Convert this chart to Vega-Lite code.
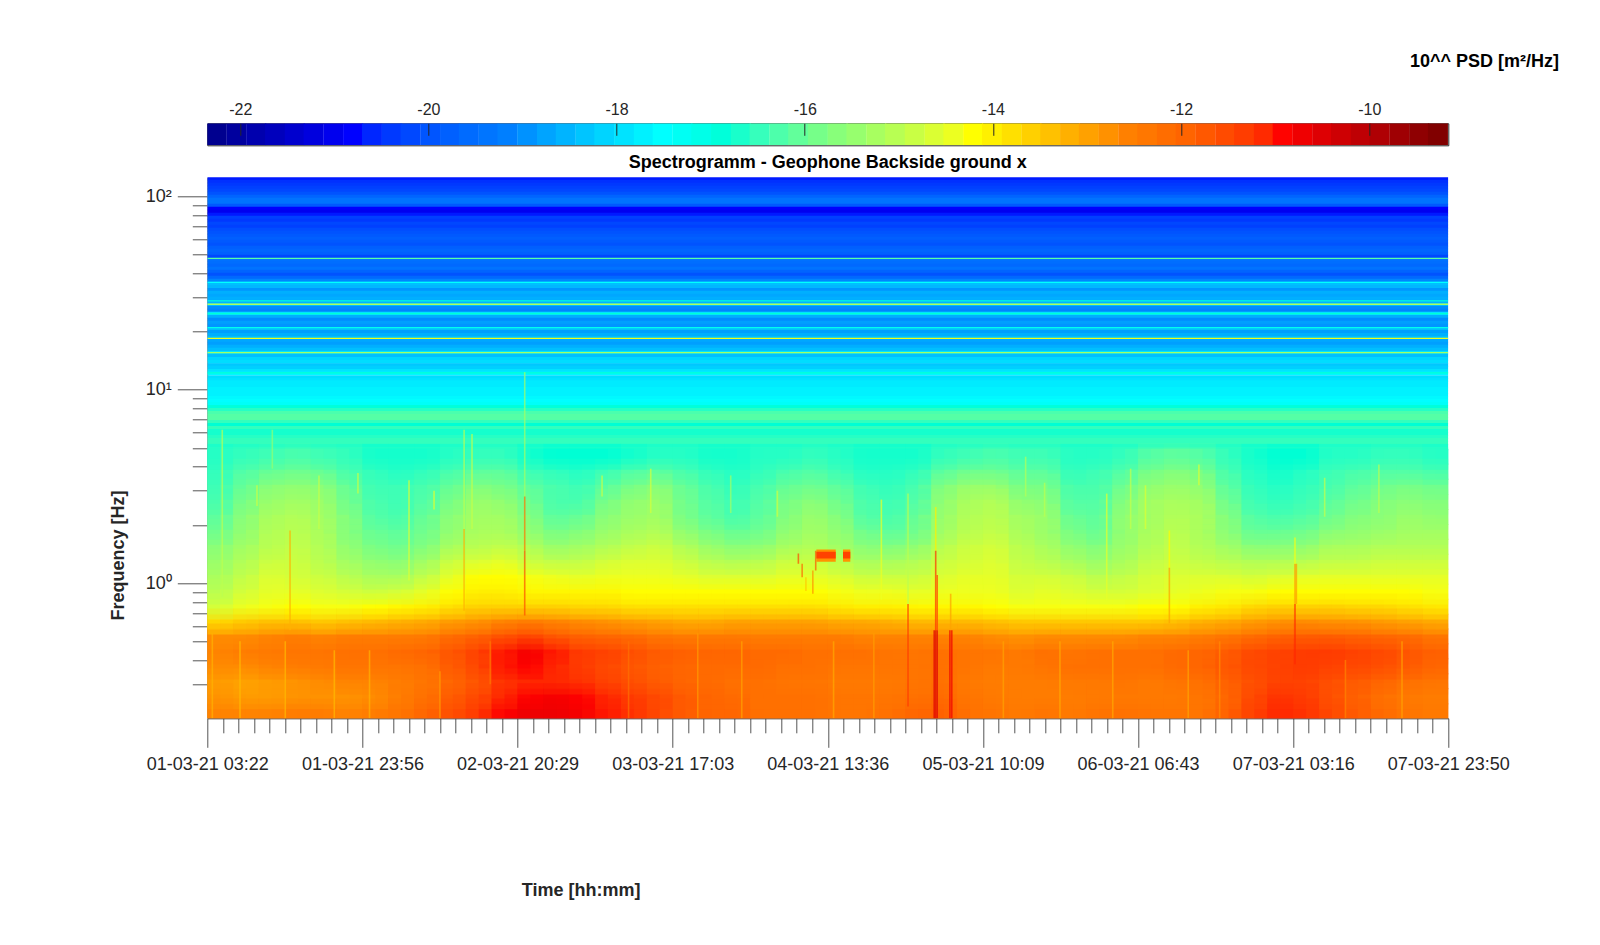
{"$schema":"https://vega.github.io/schema/vega-lite/v6.json","autosize":"none","padding":{"left":207.3,"top":123.3,"right":1392.7,"bottom":821.7},"background":"white","config":{"font":"Liberation Sans","view":{"stroke":null}},"spacing":32,"bounds":"flush","resolve":{"scale":{"color":"independent"}},
"datasets":{
"bar":[{"v":-22.25},{"v":-22.04},{"v":-21.83},{"v":-21.63},{"v":-21.42},{"v":-21.22},{"v":-21.01},{"v":-20.8},{"v":-20.6},{"v":-20.39},{"v":-20.19},{"v":-19.98},{"v":-19.77},{"v":-19.57},{"v":-19.36},{"v":-19.16},{"v":-18.95},{"v":-18.74},{"v":-18.54},{"v":-18.33},{"v":-18.13},{"v":-17.92},{"v":-17.71},{"v":-17.51},{"v":-17.3},{"v":-17.1},{"v":-16.89},{"v":-16.68},{"v":-16.48},{"v":-16.27},{"v":-16.07},{"v":-15.86},{"v":-15.65},{"v":-15.45},{"v":-15.24},{"v":-15.04},{"v":-14.83},{"v":-14.62},{"v":-14.42},{"v":-14.21},{"v":-14.01},{"v":-13.8},{"v":-13.59},{"v":-13.39},{"v":-13.18},{"v":-12.98},{"v":-12.77},{"v":-12.56},{"v":-12.36},{"v":-12.15},{"v":-11.95},{"v":-11.74},{"v":-11.53},{"v":-11.33},{"v":-11.12},{"v":-10.92},{"v":-10.71},{"v":-10.5},{"v":-10.3},{"v":-10.09},{"v":-9.89},{"v":-9.68},{"v":-9.47},{"v":-9.27}],
"stripes":[{"f":123.2,"v":-20.7},{"f":118.9,"v":-20.5},{"f":114.7,"v":-20.4},{"f":110.7,"v":-20.3},{"f":106.8,"v":-20.2},{"f":103,"v":-20},{"f":99.4,"v":-19.7},{"f":95.9,"v":-19.4},{"f":92.5,"v":-19.4},{"f":89.3,"v":-19.9},{"f":86.2,"v":-20.8},{"f":83.1,"v":-21},{"f":80.2,"v":-20.7},{"f":77.4,"v":-20.3},{"f":74.7,"v":-20.4},{"f":72.1,"v":-20.2},{"f":69.5,"v":-20.3},{"f":67.1,"v":-20.1},{"f":64.7,"v":-20},{"f":62.5,"v":-19.9},{"f":60.3,"v":-19.8},{"f":58.2,"v":-19.9},{"f":56.1,"v":-20},{"f":54.2,"v":-19.8},{"f":52.3,"v":-19.7},{"f":50.4,"v":-19.8},{"f":48.7,"v":-20.2},{"f":46.9,"v":-19.4},{"f":45.3,"v":-19.5},{"f":43.7,"v":-19.6},{"f":42.2,"v":-19.4},{"f":40.7,"v":-19.7},{"f":39.3,"v":-20},{"f":37.9,"v":-19.6},{"f":36.6,"v":-19.1},{"f":35.3,"v":-18.4},{"f":34,"v":-18.5},{"f":32.8,"v":-18.9},{"f":31.7,"v":-18.6},{"f":30.6,"v":-18.7},{"f":29.5,"v":-18.6},{"f":28.5,"v":-18.7},{"f":27.5,"v":-18.2},{"f":26.5,"v":-19},{"f":25.6,"v":-19.1},{"f":24.7,"v":-17.9},{"f":23.8,"v":-18.6},{"f":23,"v":-19},{"f":22.2,"v":-18.8},{"f":21.4,"v":-18.9},{"f":20.6,"v":-18.4},{"f":19.9,"v":-18.8},{"f":19.2,"v":-18.6},{"f":18.5,"v":-18.4},{"f":17.9,"v":-18.7},{"f":17.3,"v":-18.8},{"f":16.7,"v":-18.6},{"f":16.1,"v":-18.4},{"f":15.5,"v":-17.9},{"f":15,"v":-18.4},{"f":14.4,"v":-18.1},{"f":13.9,"v":-18},{"f":13.4,"v":-18.3},{"f":13,"v":-18.2},{"f":12.5,"v":-17.9},{"f":12.1,"v":-17.6},{"f":11.6,"v":-18},{"f":11.2,"v":-17.9},{"f":10.9,"v":-17.8},{"f":10.5,"v":-17.8},{"f":10.1,"v":-17.7},{"f":9.74,"v":-17.7},{"f":9.4,"v":-17.7},{"f":9.07,"v":-17.6},{"f":8.76,"v":-17.5},{"f":8.45,"v":-17.4},{"f":8.15,"v":-16.9},{"f":7.87,"v":-16.6},{"f":7.59,"v":-16.3},{"f":7.32,"v":-16.2},{"f":7.07,"v":-16.2},{"f":6.82,"v":-16.5},{"f":6.58,"v":-16.8},{"f":6.35,"v":-16.5},{"f":6.13,"v":-16.7},{"f":5.91,"v":-16.7},{"f":5.7,"v":-16.6},{"f":5.5,"v":-16.5},{"f":5.31,"v":-16.5},{"f":5.12,"v":-16.7},{"f":4.94,"v":-16.6}],
"lines":[{"f":47.6,"v":-16.2},{"f":27.6,"v":-15.2},{"f":28.7,"v":-17},{"f":24.7,"v":-16.8},{"f":18.4,"v":-14.4},{"f":20.9,"v":-17.2},{"f":15.5,"v":-15.3},{"f":12.2,"v":-16.8},{"f":35.8,"v":-17.5}],
"grid":[
{"t":103,"f":0.217,"v":-12.6},{"t":103,"f":0.26,"v":-12.8},{"t":103,"f":0.31,"v":-12.9},{"t":103,"f":0.371,"v":-12.7},{"t":103,"f":0.443,"v":-12.6},{"t":103,"f":0.53,"v":-12.7},{"t":103,"f":0.632,"v":-13.7},{"t":103,"f":0.756,"v":-14.7},{"t":103,"f":0.904,"v":-15},{"t":103,"f":1.08,"v":-15.2},{"t":103,"f":1.29,"v":-15.4},{"t":103,"f":1.54,"v":-15.6},{"t":103,"f":1.84,"v":-15.9},{"t":103,"f":2.2,"v":-16.1},{"t":103,"f":2.63,"v":-16.3},{"t":103,"f":3.15,"v":-16.4},{"t":103,"f":3.76,"v":-16.5},{"t":103,"f":4.5,"v":-16.6},
{"t":308,"f":0.217,"v":-12.6},{"t":308,"f":0.26,"v":-12.9},{"t":308,"f":0.31,"v":-13},{"t":308,"f":0.371,"v":-12.7},{"t":308,"f":0.443,"v":-12.5},{"t":308,"f":0.53,"v":-12.7},{"t":308,"f":0.632,"v":-13.5},{"t":308,"f":0.756,"v":-14.4},{"t":308,"f":0.904,"v":-14.7},{"t":308,"f":1.08,"v":-14.9},{"t":308,"f":1.29,"v":-15.1},{"t":308,"f":1.54,"v":-15.3},{"t":308,"f":1.84,"v":-15.5},{"t":308,"f":2.2,"v":-15.6},{"t":308,"f":2.63,"v":-15.8},{"t":308,"f":3.15,"v":-16},{"t":308,"f":3.76,"v":-16.2},{"t":308,"f":4.5,"v":-16.5},
{"t":514,"f":0.217,"v":-12.6},{"t":514,"f":0.26,"v":-12.9},{"t":514,"f":0.31,"v":-12.9},{"t":514,"f":0.371,"v":-12.6},{"t":514,"f":0.443,"v":-12.4},{"t":514,"f":0.53,"v":-12.6},{"t":514,"f":0.632,"v":-13.4},{"t":514,"f":0.756,"v":-14.3},{"t":514,"f":0.904,"v":-14.5},{"t":514,"f":1.08,"v":-14.6},{"t":514,"f":1.29,"v":-14.8},{"t":514,"f":1.54,"v":-15},{"t":514,"f":1.84,"v":-15.1},{"t":514,"f":2.2,"v":-15.2},{"t":514,"f":2.63,"v":-15.4},{"t":514,"f":3.15,"v":-15.6},{"t":514,"f":3.76,"v":-16},{"t":514,"f":4.5,"v":-16.4},
{"t":720,"f":0.217,"v":-12.5},{"t":720,"f":0.26,"v":-12.8},{"t":720,"f":0.31,"v":-12.8},{"t":720,"f":0.371,"v":-12.5},{"t":720,"f":0.443,"v":-12.3},{"t":720,"f":0.53,"v":-12.5},{"t":720,"f":0.632,"v":-13.4},{"t":720,"f":0.756,"v":-14.2},{"t":720,"f":0.904,"v":-14.5},{"t":720,"f":1.08,"v":-14.7},{"t":720,"f":1.29,"v":-14.8},{"t":720,"f":1.54,"v":-14.9},{"t":720,"f":1.84,"v":-15},{"t":720,"f":2.2,"v":-15.1},{"t":720,"f":2.63,"v":-15.3},{"t":720,"f":3.15,"v":-15.5},{"t":720,"f":3.76,"v":-15.9},{"t":720,"f":4.5,"v":-16.3},
{"t":925,"f":0.217,"v":-12.5},{"t":925,"f":0.26,"v":-12.8},{"t":925,"f":0.31,"v":-12.7},{"t":925,"f":0.371,"v":-12.4},{"t":925,"f":0.443,"v":-12.3},{"t":925,"f":0.53,"v":-12.6},{"t":925,"f":0.632,"v":-13.5},{"t":925,"f":0.756,"v":-14.3},{"t":925,"f":0.904,"v":-14.6},{"t":925,"f":1.08,"v":-14.8},{"t":925,"f":1.29,"v":-15},{"t":925,"f":1.54,"v":-15.1},{"t":925,"f":1.84,"v":-15.2},{"t":925,"f":2.2,"v":-15.3},{"t":925,"f":2.63,"v":-15.4},{"t":925,"f":3.15,"v":-15.6},{"t":925,"f":3.76,"v":-16},{"t":925,"f":4.5,"v":-16.4},
{"t":1131,"f":0.217,"v":-12.6},{"t":1131,"f":0.26,"v":-12.8},{"t":1131,"f":0.31,"v":-12.6},{"t":1131,"f":0.371,"v":-12.3},{"t":1131,"f":0.443,"v":-12.2},{"t":1131,"f":0.53,"v":-12.5},{"t":1131,"f":0.632,"v":-13.4},{"t":1131,"f":0.756,"v":-14.3},{"t":1131,"f":0.904,"v":-14.7},{"t":1131,"f":1.08,"v":-15},{"t":1131,"f":1.29,"v":-15.3},{"t":1131,"f":1.54,"v":-15.5},{"t":1131,"f":1.84,"v":-15.7},{"t":1131,"f":2.2,"v":-15.7},{"t":1131,"f":2.63,"v":-15.9},{"t":1131,"f":3.15,"v":-16},{"t":1131,"f":3.76,"v":-16.3},{"t":1131,"f":4.5,"v":-16.5},
{"t":1336,"f":0.217,"v":-12.5},{"t":1336,"f":0.26,"v":-12.7},{"t":1336,"f":0.31,"v":-12.6},{"t":1336,"f":0.371,"v":-12.3},{"t":1336,"f":0.443,"v":-12.2},{"t":1336,"f":0.53,"v":-12.5},{"t":1336,"f":0.632,"v":-13.3},{"t":1336,"f":0.756,"v":-14.2},{"t":1336,"f":0.904,"v":-14.8},{"t":1336,"f":1.08,"v":-15.2},{"t":1336,"f":1.29,"v":-15.5},{"t":1336,"f":1.54,"v":-15.8},{"t":1336,"f":1.84,"v":-16},{"t":1336,"f":2.2,"v":-16.2},{"t":1336,"f":2.63,"v":-16.3},{"t":1336,"f":3.15,"v":-16.4},{"t":1336,"f":3.76,"v":-16.5},{"t":1336,"f":4.5,"v":-16.7},
{"t":1542,"f":0.217,"v":-12.3},{"t":1542,"f":0.26,"v":-12.5},{"t":1542,"f":0.31,"v":-12.5},{"t":1542,"f":0.371,"v":-12.3},{"t":1542,"f":0.443,"v":-12.1},{"t":1542,"f":0.53,"v":-12.5},{"t":1542,"f":0.632,"v":-13.2},{"t":1542,"f":0.756,"v":-14.1},{"t":1542,"f":0.904,"v":-14.7},{"t":1542,"f":1.08,"v":-15.2},{"t":1542,"f":1.29,"v":-15.6},{"t":1542,"f":1.54,"v":-15.9},{"t":1542,"f":1.84,"v":-16.1},{"t":1542,"f":2.2,"v":-16.3},{"t":1542,"f":2.63,"v":-16.4},{"t":1542,"f":3.15,"v":-16.4},{"t":1542,"f":3.76,"v":-16.6},{"t":1542,"f":4.5,"v":-16.7},
{"t":1748,"f":0.217,"v":-12},{"t":1748,"f":0.26,"v":-12.2},{"t":1748,"f":0.31,"v":-12.3},{"t":1748,"f":0.371,"v":-12.2},{"t":1748,"f":0.443,"v":-12},{"t":1748,"f":0.53,"v":-12.4},{"t":1748,"f":0.632,"v":-13.1},{"t":1748,"f":0.756,"v":-14},{"t":1748,"f":0.904,"v":-14.5},{"t":1748,"f":1.08,"v":-14.9},{"t":1748,"f":1.29,"v":-15.3},{"t":1748,"f":1.54,"v":-15.7},{"t":1748,"f":1.84,"v":-15.9},{"t":1748,"f":2.2,"v":-16},{"t":1748,"f":2.63,"v":-16.2},{"t":1748,"f":3.15,"v":-16.3},{"t":1748,"f":3.76,"v":-16.5},{"t":1748,"f":4.5,"v":-16.7},
{"t":1953,"f":0.217,"v":-11.6},{"t":1953,"f":0.26,"v":-11.8},{"t":1953,"f":0.31,"v":-12},{"t":1953,"f":0.371,"v":-11.8},{"t":1953,"f":0.443,"v":-11.7},{"t":1953,"f":0.53,"v":-12.1},{"t":1953,"f":0.632,"v":-12.9},{"t":1953,"f":0.756,"v":-13.8},{"t":1953,"f":0.904,"v":-14.2},{"t":1953,"f":1.08,"v":-14.5},{"t":1953,"f":1.29,"v":-14.8},{"t":1953,"f":1.54,"v":-15.2},{"t":1953,"f":1.84,"v":-15.5},{"t":1953,"f":2.2,"v":-15.6},{"t":1953,"f":2.63,"v":-15.8},{"t":1953,"f":3.15,"v":-16},{"t":1953,"f":3.76,"v":-16.3},{"t":1953,"f":4.5,"v":-16.6},
{"t":2159,"f":0.217,"v":-11.3},{"t":2159,"f":0.26,"v":-11.5},{"t":2159,"f":0.31,"v":-11.7},{"t":2159,"f":0.371,"v":-11.5},{"t":2159,"f":0.443,"v":-11.4},{"t":2159,"f":0.53,"v":-11.9},{"t":2159,"f":0.632,"v":-12.8},{"t":2159,"f":0.756,"v":-13.6},{"t":2159,"f":0.904,"v":-14},{"t":2159,"f":1.08,"v":-14.2},{"t":2159,"f":1.29,"v":-14.6},{"t":2159,"f":1.54,"v":-15},{"t":2159,"f":1.84,"v":-15.2},{"t":2159,"f":2.2,"v":-15.3},{"t":2159,"f":2.63,"v":-15.4},{"t":2159,"f":3.15,"v":-15.7},{"t":2159,"f":3.76,"v":-16.1},{"t":2159,"f":4.5,"v":-16.5},
{"t":2364,"f":0.217,"v":-10.9},{"t":2364,"f":0.26,"v":-11.1},{"t":2364,"f":0.31,"v":-11.2},{"t":2364,"f":0.371,"v":-11},{"t":2364,"f":0.443,"v":-11},{"t":2364,"f":0.53,"v":-11.6},{"t":2364,"f":0.632,"v":-12.6},{"t":2364,"f":0.756,"v":-13.6},{"t":2364,"f":0.904,"v":-14},{"t":2364,"f":1.08,"v":-14.2},{"t":2364,"f":1.29,"v":-14.5},{"t":2364,"f":1.54,"v":-14.9},{"t":2364,"f":1.84,"v":-15.2},{"t":2364,"f":2.2,"v":-15.3},{"t":2364,"f":2.63,"v":-15.5},{"t":2364,"f":3.15,"v":-15.8},{"t":2364,"f":3.76,"v":-16.1},{"t":2364,"f":4.5,"v":-16.5},
{"t":2570,"f":0.217,"v":-10.7},{"t":2570,"f":0.26,"v":-10.9},{"t":2570,"f":0.31,"v":-11.1},{"t":2570,"f":0.371,"v":-10.9},{"t":2570,"f":0.443,"v":-10.8},{"t":2570,"f":0.53,"v":-11.4},{"t":2570,"f":0.632,"v":-12.5},{"t":2570,"f":0.756,"v":-13.6},{"t":2570,"f":0.904,"v":-14.1},{"t":2570,"f":1.08,"v":-14.3},{"t":2570,"f":1.29,"v":-14.8},{"t":2570,"f":1.54,"v":-15.1},{"t":2570,"f":1.84,"v":-15.5},{"t":2570,"f":2.2,"v":-15.7},{"t":2570,"f":2.63,"v":-15.9},{"t":2570,"f":3.15,"v":-16.1},{"t":2570,"f":3.76,"v":-16.4},{"t":2570,"f":4.5,"v":-16.7},
{"t":2776,"f":0.217,"v":-10.7},{"t":2776,"f":0.26,"v":-10.8},{"t":2776,"f":0.31,"v":-11.1},{"t":2776,"f":0.371,"v":-11.1},{"t":2776,"f":0.443,"v":-11},{"t":2776,"f":0.53,"v":-11.7},{"t":2776,"f":0.632,"v":-12.6},{"t":2776,"f":0.756,"v":-13.6},{"t":2776,"f":0.904,"v":-14.1},{"t":2776,"f":1.08,"v":-14.4},{"t":2776,"f":1.29,"v":-14.9},{"t":2776,"f":1.54,"v":-15.4},{"t":2776,"f":1.84,"v":-15.8},{"t":2776,"f":2.2,"v":-16.1},{"t":2776,"f":2.63,"v":-16.3},{"t":2776,"f":3.15,"v":-16.3},{"t":2776,"f":3.76,"v":-16.5},{"t":2776,"f":4.5,"v":-16.8},
{"t":2981,"f":0.217,"v":-10.8},{"t":2981,"f":0.26,"v":-10.9},{"t":2981,"f":0.31,"v":-11.2},{"t":2981,"f":0.371,"v":-11.3},{"t":2981,"f":0.443,"v":-11.3},{"t":2981,"f":0.53,"v":-11.9},{"t":2981,"f":0.632,"v":-12.7},{"t":2981,"f":0.756,"v":-13.7},{"t":2981,"f":0.904,"v":-14.1},{"t":2981,"f":1.08,"v":-14.5},{"t":2981,"f":1.29,"v":-14.9},{"t":2981,"f":1.54,"v":-15.3},{"t":2981,"f":1.84,"v":-15.7},{"t":2981,"f":2.2,"v":-16},{"t":2981,"f":2.63,"v":-16.3},{"t":2981,"f":3.15,"v":-16.4},{"t":2981,"f":3.76,"v":-16.6},{"t":2981,"f":4.5,"v":-16.8},
{"t":3187,"f":0.217,"v":-11},{"t":3187,"f":0.26,"v":-11.1},{"t":3187,"f":0.31,"v":-11.4},{"t":3187,"f":0.371,"v":-11.5},{"t":3187,"f":0.443,"v":-11.4},{"t":3187,"f":0.53,"v":-12},{"t":3187,"f":0.632,"v":-12.8},{"t":3187,"f":0.756,"v":-13.7},{"t":3187,"f":0.904,"v":-14.1},{"t":3187,"f":1.08,"v":-14.4},{"t":3187,"f":1.29,"v":-14.7},{"t":3187,"f":1.54,"v":-15.1},{"t":3187,"f":1.84,"v":-15.4},{"t":3187,"f":2.2,"v":-15.6},{"t":3187,"f":2.63,"v":-15.8},{"t":3187,"f":3.15,"v":-16.1},{"t":3187,"f":3.76,"v":-16.4},{"t":3187,"f":4.5,"v":-16.8},
{"t":3392,"f":0.217,"v":-11.2},{"t":3392,"f":0.26,"v":-11.3},{"t":3392,"f":0.31,"v":-11.6},{"t":3392,"f":0.371,"v":-11.7},{"t":3392,"f":0.443,"v":-11.6},{"t":3392,"f":0.53,"v":-12.1},{"t":3392,"f":0.632,"v":-12.9},{"t":3392,"f":0.756,"v":-13.8},{"t":3392,"f":0.904,"v":-14.2},{"t":3392,"f":1.08,"v":-14.4},{"t":3392,"f":1.29,"v":-14.6},{"t":3392,"f":1.54,"v":-14.9},{"t":3392,"f":1.84,"v":-15.2},{"t":3392,"f":2.2,"v":-15.4},{"t":3392,"f":2.63,"v":-15.5},{"t":3392,"f":3.15,"v":-15.8},{"t":3392,"f":3.76,"v":-16.2},{"t":3392,"f":4.5,"v":-16.7},
{"t":3598,"f":0.217,"v":-11.5},{"t":3598,"f":0.26,"v":-11.5},{"t":3598,"f":0.31,"v":-11.8},{"t":3598,"f":0.371,"v":-11.9},{"t":3598,"f":0.443,"v":-11.8},{"t":3598,"f":0.53,"v":-12.3},{"t":3598,"f":0.632,"v":-13},{"t":3598,"f":0.756,"v":-13.8},{"t":3598,"f":0.904,"v":-14.2},{"t":3598,"f":1.08,"v":-14.4},{"t":3598,"f":1.29,"v":-14.6},{"t":3598,"f":1.54,"v":-14.8},{"t":3598,"f":1.84,"v":-15.1},{"t":3598,"f":2.2,"v":-15.3},{"t":3598,"f":2.63,"v":-15.4},{"t":3598,"f":3.15,"v":-15.6},{"t":3598,"f":3.76,"v":-16.1},{"t":3598,"f":4.5,"v":-16.6},
{"t":3804,"f":0.217,"v":-11.8},{"t":3804,"f":0.26,"v":-11.8},{"t":3804,"f":0.31,"v":-12},{"t":3804,"f":0.371,"v":-12},{"t":3804,"f":0.443,"v":-11.9},{"t":3804,"f":0.53,"v":-12.4},{"t":3804,"f":0.632,"v":-13.1},{"t":3804,"f":0.756,"v":-13.8},{"t":3804,"f":0.904,"v":-14.2},{"t":3804,"f":1.08,"v":-14.5},{"t":3804,"f":1.29,"v":-14.8},{"t":3804,"f":1.54,"v":-15.1},{"t":3804,"f":1.84,"v":-15.5},{"t":3804,"f":2.2,"v":-15.8},{"t":3804,"f":2.63,"v":-15.9},{"t":3804,"f":3.15,"v":-16},{"t":3804,"f":3.76,"v":-16.3},{"t":3804,"f":4.5,"v":-16.6},
{"t":4009,"f":0.217,"v":-12},{"t":4009,"f":0.26,"v":-12},{"t":4009,"f":0.31,"v":-12.1},{"t":4009,"f":0.371,"v":-12.1},{"t":4009,"f":0.443,"v":-12},{"t":4009,"f":0.53,"v":-12.4},{"t":4009,"f":0.632,"v":-13.1},{"t":4009,"f":0.756,"v":-13.8},{"t":4009,"f":0.904,"v":-14.2},{"t":4009,"f":1.08,"v":-14.6},{"t":4009,"f":1.29,"v":-15},{"t":4009,"f":1.54,"v":-15.4},{"t":4009,"f":1.84,"v":-15.8},{"t":4009,"f":2.2,"v":-16.1},{"t":4009,"f":2.63,"v":-16.2},{"t":4009,"f":3.15,"v":-16.3},{"t":4009,"f":3.76,"v":-16.5},{"t":4009,"f":4.5,"v":-16.7},
{"t":4215,"f":0.217,"v":-12},{"t":4215,"f":0.26,"v":-12.1},{"t":4215,"f":0.31,"v":-12.2},{"t":4215,"f":0.371,"v":-12.1},{"t":4215,"f":0.443,"v":-12},{"t":4215,"f":0.53,"v":-12.4},{"t":4215,"f":0.632,"v":-13},{"t":4215,"f":0.756,"v":-13.8},{"t":4215,"f":0.904,"v":-14.2},{"t":4215,"f":1.08,"v":-14.6},{"t":4215,"f":1.29,"v":-15.1},{"t":4215,"f":1.54,"v":-15.6},{"t":4215,"f":1.84,"v":-16},{"t":4215,"f":2.2,"v":-16.3},{"t":4215,"f":2.63,"v":-16.4},{"t":4215,"f":3.15,"v":-16.5},{"t":4215,"f":3.76,"v":-16.6},{"t":4215,"f":4.5,"v":-16.7},
{"t":4420,"f":0.217,"v":-12.2},{"t":4420,"f":0.26,"v":-12.2},{"t":4420,"f":0.31,"v":-12.2},{"t":4420,"f":0.371,"v":-12.1},{"t":4420,"f":0.443,"v":-12.1},{"t":4420,"f":0.53,"v":-12.5},{"t":4420,"f":0.632,"v":-13},{"t":4420,"f":0.756,"v":-13.8},{"t":4420,"f":0.904,"v":-14.2},{"t":4420,"f":1.08,"v":-14.6},{"t":4420,"f":1.29,"v":-15},{"t":4420,"f":1.54,"v":-15.5},{"t":4420,"f":1.84,"v":-15.9},{"t":4420,"f":2.2,"v":-16.1},{"t":4420,"f":2.63,"v":-16.2},{"t":4420,"f":3.15,"v":-16.3},{"t":4420,"f":3.76,"v":-16.5},{"t":4420,"f":4.5,"v":-16.6},
{"t":4626,"f":0.217,"v":-12.2},{"t":4626,"f":0.26,"v":-12.2},{"t":4626,"f":0.31,"v":-12.3},{"t":4626,"f":0.371,"v":-12.2},{"t":4626,"f":0.443,"v":-12.1},{"t":4626,"f":0.53,"v":-12.5},{"t":4626,"f":0.632,"v":-13},{"t":4626,"f":0.756,"v":-13.8},{"t":4626,"f":0.904,"v":-14.2},{"t":4626,"f":1.08,"v":-14.5},{"t":4626,"f":1.29,"v":-14.8},{"t":4626,"f":1.54,"v":-15.2},{"t":4626,"f":1.84,"v":-15.5},{"t":4626,"f":2.2,"v":-15.7},{"t":4626,"f":2.63,"v":-15.8},{"t":4626,"f":3.15,"v":-16},{"t":4626,"f":3.76,"v":-16.3},{"t":4626,"f":4.5,"v":-16.6},
{"t":4832,"f":0.217,"v":-12.2},{"t":4832,"f":0.26,"v":-12.2},{"t":4832,"f":0.31,"v":-12.3},{"t":4832,"f":0.371,"v":-12.2},{"t":4832,"f":0.443,"v":-12.2},{"t":4832,"f":0.53,"v":-12.5},{"t":4832,"f":0.632,"v":-13},{"t":4832,"f":0.756,"v":-13.8},{"t":4832,"f":0.904,"v":-14.2},{"t":4832,"f":1.08,"v":-14.5},{"t":4832,"f":1.29,"v":-14.8},{"t":4832,"f":1.54,"v":-15.1},{"t":4832,"f":1.84,"v":-15.3},{"t":4832,"f":2.2,"v":-15.4},{"t":4832,"f":2.63,"v":-15.6},{"t":4832,"f":3.15,"v":-15.9},{"t":4832,"f":3.76,"v":-16.2},{"t":4832,"f":4.5,"v":-16.5},
{"t":5037,"f":0.217,"v":-12.3},{"t":5037,"f":0.26,"v":-12.3},{"t":5037,"f":0.31,"v":-12.4},{"t":5037,"f":0.371,"v":-12.3},{"t":5037,"f":0.443,"v":-12.2},{"t":5037,"f":0.53,"v":-12.5},{"t":5037,"f":0.632,"v":-13.1},{"t":5037,"f":0.756,"v":-13.9},{"t":5037,"f":0.904,"v":-14.3},{"t":5037,"f":1.08,"v":-14.6},{"t":5037,"f":1.29,"v":-15},{"t":5037,"f":1.54,"v":-15.3},{"t":5037,"f":1.84,"v":-15.5},{"t":5037,"f":2.2,"v":-15.7},{"t":5037,"f":2.63,"v":-15.9},{"t":5037,"f":3.15,"v":-16.1},{"t":5037,"f":3.76,"v":-16.4},{"t":5037,"f":4.5,"v":-16.6},
{"t":5243,"f":0.217,"v":-12.3},{"t":5243,"f":0.26,"v":-12.3},{"t":5243,"f":0.31,"v":-12.4},{"t":5243,"f":0.371,"v":-12.3},{"t":5243,"f":0.443,"v":-12.2},{"t":5243,"f":0.53,"v":-12.6},{"t":5243,"f":0.632,"v":-13.1},{"t":5243,"f":0.756,"v":-14},{"t":5243,"f":0.904,"v":-14.4},{"t":5243,"f":1.08,"v":-14.8},{"t":5243,"f":1.29,"v":-15.2},{"t":5243,"f":1.54,"v":-15.6},{"t":5243,"f":1.84,"v":-15.9},{"t":5243,"f":2.2,"v":-16.2},{"t":5243,"f":2.63,"v":-16.3},{"t":5243,"f":3.15,"v":-16.4},{"t":5243,"f":3.76,"v":-16.6},{"t":5243,"f":4.5,"v":-16.7},
{"t":5448,"f":0.217,"v":-12.2},{"t":5448,"f":0.26,"v":-12.3},{"t":5448,"f":0.31,"v":-12.4},{"t":5448,"f":0.371,"v":-12.3},{"t":5448,"f":0.443,"v":-12.3},{"t":5448,"f":0.53,"v":-12.6},{"t":5448,"f":0.632,"v":-13.2},{"t":5448,"f":0.756,"v":-14},{"t":5448,"f":0.904,"v":-14.4},{"t":5448,"f":1.08,"v":-14.8},{"t":5448,"f":1.29,"v":-15.2},{"t":5448,"f":1.54,"v":-15.7},{"t":5448,"f":1.84,"v":-16.1},{"t":5448,"f":2.2,"v":-16.3},{"t":5448,"f":2.63,"v":-16.4},{"t":5448,"f":3.15,"v":-16.5},{"t":5448,"f":3.76,"v":-16.6},{"t":5448,"f":4.5,"v":-16.7},
{"t":5654,"f":0.217,"v":-12},{"t":5654,"f":0.26,"v":-12.2},{"t":5654,"f":0.31,"v":-12.3},{"t":5654,"f":0.371,"v":-12.3},{"t":5654,"f":0.443,"v":-12.3},{"t":5654,"f":0.53,"v":-12.6},{"t":5654,"f":0.632,"v":-13.3},{"t":5654,"f":0.756,"v":-14.1},{"t":5654,"f":0.904,"v":-14.5},{"t":5654,"f":1.08,"v":-14.8},{"t":5654,"f":1.29,"v":-15.1},{"t":5654,"f":1.54,"v":-15.5},{"t":5654,"f":1.84,"v":-15.9},{"t":5654,"f":2.2,"v":-16},{"t":5654,"f":2.63,"v":-16.2},{"t":5654,"f":3.15,"v":-16.3},{"t":5654,"f":3.76,"v":-16.5},{"t":5654,"f":4.5,"v":-16.7},
{"t":5860,"f":0.217,"v":-11.9},{"t":5860,"f":0.26,"v":-12.1},{"t":5860,"f":0.31,"v":-12.2},{"t":5860,"f":0.371,"v":-12.2},{"t":5860,"f":0.443,"v":-12.2},{"t":5860,"f":0.53,"v":-12.6},{"t":5860,"f":0.632,"v":-13.3},{"t":5860,"f":0.756,"v":-14.1},{"t":5860,"f":0.904,"v":-14.4},{"t":5860,"f":1.08,"v":-14.6},{"t":5860,"f":1.29,"v":-14.8},{"t":5860,"f":1.54,"v":-15},{"t":5860,"f":1.84,"v":-15.3},{"t":5860,"f":2.2,"v":-15.4},{"t":5860,"f":2.63,"v":-15.5},{"t":5860,"f":3.15,"v":-15.7},{"t":5860,"f":3.76,"v":-16.1},{"t":5860,"f":4.5,"v":-16.5},
{"t":6065,"f":0.217,"v":-12.2},{"t":6065,"f":0.26,"v":-12.3},{"t":6065,"f":0.31,"v":-12.4},{"t":6065,"f":0.371,"v":-12.3},{"t":6065,"f":0.443,"v":-12.3},{"t":6065,"f":0.53,"v":-12.6},{"t":6065,"f":0.632,"v":-13.3},{"t":6065,"f":0.756,"v":-14.1},{"t":6065,"f":0.904,"v":-14.4},{"t":6065,"f":1.08,"v":-14.5},{"t":6065,"f":1.29,"v":-14.7},{"t":6065,"f":1.54,"v":-14.8},{"t":6065,"f":1.84,"v":-15},{"t":6065,"f":2.2,"v":-15.1},{"t":6065,"f":2.63,"v":-15.2},{"t":6065,"f":3.15,"v":-15.4},{"t":6065,"f":3.76,"v":-15.9},{"t":6065,"f":4.5,"v":-16.4},
{"t":6271,"f":0.217,"v":-12.3},{"t":6271,"f":0.26,"v":-12.4},{"t":6271,"f":0.31,"v":-12.5},{"t":6271,"f":0.371,"v":-12.4},{"t":6271,"f":0.443,"v":-12.3},{"t":6271,"f":0.53,"v":-12.7},{"t":6271,"f":0.632,"v":-13.4},{"t":6271,"f":0.756,"v":-14.2},{"t":6271,"f":0.904,"v":-14.4},{"t":6271,"f":1.08,"v":-14.5},{"t":6271,"f":1.29,"v":-14.6},{"t":6271,"f":1.54,"v":-14.7},{"t":6271,"f":1.84,"v":-14.9},{"t":6271,"f":2.2,"v":-15},{"t":6271,"f":2.63,"v":-15.1},{"t":6271,"f":3.15,"v":-15.4},{"t":6271,"f":3.76,"v":-15.9},{"t":6271,"f":4.5,"v":-16.3},
{"t":6476,"f":0.217,"v":-12.4},{"t":6476,"f":0.26,"v":-12.5},{"t":6476,"f":0.31,"v":-12.5},{"t":6476,"f":0.371,"v":-12.4},{"t":6476,"f":0.443,"v":-12.4},{"t":6476,"f":0.53,"v":-12.8},{"t":6476,"f":0.632,"v":-13.5},{"t":6476,"f":0.756,"v":-14.3},{"t":6476,"f":0.904,"v":-14.6},{"t":6476,"f":1.08,"v":-14.7},{"t":6476,"f":1.29,"v":-14.9},{"t":6476,"f":1.54,"v":-15},{"t":6476,"f":1.84,"v":-15.2},{"t":6476,"f":2.2,"v":-15.3},{"t":6476,"f":2.63,"v":-15.5},{"t":6476,"f":3.15,"v":-15.8},{"t":6476,"f":3.76,"v":-16.1},{"t":6476,"f":4.5,"v":-16.4},
{"t":6682,"f":0.217,"v":-12.3},{"t":6682,"f":0.26,"v":-12.5},{"t":6682,"f":0.31,"v":-12.5},{"t":6682,"f":0.371,"v":-12.3},{"t":6682,"f":0.443,"v":-12.2},{"t":6682,"f":0.53,"v":-12.7},{"t":6682,"f":0.632,"v":-13.5},{"t":6682,"f":0.756,"v":-14.3},{"t":6682,"f":0.904,"v":-14.5},{"t":6682,"f":1.08,"v":-14.7},{"t":6682,"f":1.29,"v":-15},{"t":6682,"f":1.54,"v":-15.2},{"t":6682,"f":1.84,"v":-15.4},{"t":6682,"f":2.2,"v":-15.4},{"t":6682,"f":2.63,"v":-15.6},{"t":6682,"f":3.15,"v":-15.8},{"t":6682,"f":3.76,"v":-16.1},{"t":6682,"f":4.5,"v":-16.4},
{"t":6888,"f":0.217,"v":-12.4},{"t":6888,"f":0.26,"v":-12.5},{"t":6888,"f":0.31,"v":-12.4},{"t":6888,"f":0.371,"v":-12.2},{"t":6888,"f":0.443,"v":-12.3},{"t":6888,"f":0.53,"v":-12.7},{"t":6888,"f":0.632,"v":-13.5},{"t":6888,"f":0.756,"v":-14.3},{"t":6888,"f":0.904,"v":-14.6},{"t":6888,"f":1.08,"v":-14.8},{"t":6888,"f":1.29,"v":-15.2},{"t":6888,"f":1.54,"v":-15.5},{"t":6888,"f":1.84,"v":-15.8},{"t":6888,"f":2.2,"v":-16},{"t":6888,"f":2.63,"v":-16.2},{"t":6888,"f":3.15,"v":-16.3},{"t":6888,"f":3.76,"v":-16.5},{"t":6888,"f":4.5,"v":-16.6},
{"t":7093,"f":0.217,"v":-12.3},{"t":7093,"f":0.26,"v":-12.4},{"t":7093,"f":0.31,"v":-12.4},{"t":7093,"f":0.371,"v":-12.2},{"t":7093,"f":0.443,"v":-12.2},{"t":7093,"f":0.53,"v":-12.7},{"t":7093,"f":0.632,"v":-13.5},{"t":7093,"f":0.756,"v":-14.3},{"t":7093,"f":0.904,"v":-14.7},{"t":7093,"f":1.08,"v":-15},{"t":7093,"f":1.29,"v":-15.4},{"t":7093,"f":1.54,"v":-15.7},{"t":7093,"f":1.84,"v":-16},{"t":7093,"f":2.2,"v":-16.1},{"t":7093,"f":2.63,"v":-16.2},{"t":7093,"f":3.15,"v":-16.3},{"t":7093,"f":3.76,"v":-16.4},{"t":7093,"f":4.5,"v":-16.6},
{"t":7299,"f":0.217,"v":-12.2},{"t":7299,"f":0.26,"v":-12.4},{"t":7299,"f":0.31,"v":-12.3},{"t":7299,"f":0.371,"v":-12.2},{"t":7299,"f":0.443,"v":-12.2},{"t":7299,"f":0.53,"v":-12.7},{"t":7299,"f":0.632,"v":-13.5},{"t":7299,"f":0.756,"v":-14.3},{"t":7299,"f":0.904,"v":-14.7},{"t":7299,"f":1.08,"v":-14.9},{"t":7299,"f":1.29,"v":-15.2},{"t":7299,"f":1.54,"v":-15.4},{"t":7299,"f":1.84,"v":-15.5},{"t":7299,"f":2.2,"v":-15.5},{"t":7299,"f":2.63,"v":-15.7},{"t":7299,"f":3.15,"v":-15.9},{"t":7299,"f":3.76,"v":-16.2},{"t":7299,"f":4.5,"v":-16.5},
{"t":7504,"f":0.217,"v":-12.3},{"t":7504,"f":0.26,"v":-12.4},{"t":7504,"f":0.31,"v":-12.4},{"t":7504,"f":0.371,"v":-12.2},{"t":7504,"f":0.443,"v":-12.2},{"t":7504,"f":0.53,"v":-12.6},{"t":7504,"f":0.632,"v":-13.5},{"t":7504,"f":0.756,"v":-14.2},{"t":7504,"f":0.904,"v":-14.6},{"t":7504,"f":1.08,"v":-14.7},{"t":7504,"f":1.29,"v":-14.9},{"t":7504,"f":1.54,"v":-15.1},{"t":7504,"f":1.84,"v":-15.2},{"t":7504,"f":2.2,"v":-15.3},{"t":7504,"f":2.63,"v":-15.3},{"t":7504,"f":3.15,"v":-15.5},{"t":7504,"f":3.76,"v":-15.8},{"t":7504,"f":4.5,"v":-16.2},
{"t":7710,"f":0.217,"v":-12.3},{"t":7710,"f":0.26,"v":-12.4},{"t":7710,"f":0.31,"v":-12.3},{"t":7710,"f":0.371,"v":-12.1},{"t":7710,"f":0.443,"v":-12.1},{"t":7710,"f":0.53,"v":-12.6},{"t":7710,"f":0.632,"v":-13.4},{"t":7710,"f":0.756,"v":-14.2},{"t":7710,"f":0.904,"v":-14.5},{"t":7710,"f":1.08,"v":-14.6},{"t":7710,"f":1.29,"v":-14.8},{"t":7710,"f":1.54,"v":-14.9},{"t":7710,"f":1.84,"v":-15},{"t":7710,"f":2.2,"v":-15.1},{"t":7710,"f":2.63,"v":-15.2},{"t":7710,"f":3.15,"v":-15.4},{"t":7710,"f":3.76,"v":-15.7},{"t":7710,"f":4.5,"v":-16.1},
{"t":7916,"f":0.217,"v":-12.3},{"t":7916,"f":0.26,"v":-12.3},{"t":7916,"f":0.31,"v":-12.2},{"t":7916,"f":0.371,"v":-12},{"t":7916,"f":0.443,"v":-12},{"t":7916,"f":0.53,"v":-12.5},{"t":7916,"f":0.632,"v":-13.2},{"t":7916,"f":0.756,"v":-14},{"t":7916,"f":0.904,"v":-14.4},{"t":7916,"f":1.08,"v":-14.6},{"t":7916,"f":1.29,"v":-14.9},{"t":7916,"f":1.54,"v":-15.1},{"t":7916,"f":1.84,"v":-15.2},{"t":7916,"f":2.2,"v":-15.2},{"t":7916,"f":2.63,"v":-15.3},{"t":7916,"f":3.15,"v":-15.5},{"t":7916,"f":3.76,"v":-15.8},{"t":7916,"f":4.5,"v":-16.2},
{"t":8121,"f":0.217,"v":-11.9},{"t":8121,"f":0.26,"v":-12},{"t":8121,"f":0.31,"v":-11.9},{"t":8121,"f":0.371,"v":-11.7},{"t":8121,"f":0.443,"v":-11.8},{"t":8121,"f":0.53,"v":-12.3},{"t":8121,"f":0.632,"v":-13.1},{"t":8121,"f":0.756,"v":-13.9},{"t":8121,"f":0.904,"v":-14.3},{"t":8121,"f":1.08,"v":-14.6},{"t":8121,"f":1.29,"v":-15},{"t":8121,"f":1.54,"v":-15.3},{"t":8121,"f":1.84,"v":-15.6},{"t":8121,"f":2.2,"v":-15.7},{"t":8121,"f":2.63,"v":-15.9},{"t":8121,"f":3.15,"v":-16.1},{"t":8121,"f":3.76,"v":-16.3},{"t":8121,"f":4.5,"v":-16.5},
{"t":8327,"f":0.217,"v":-11.4},{"t":8327,"f":0.26,"v":-11.5},{"t":8327,"f":0.31,"v":-11.6},{"t":8327,"f":0.371,"v":-11.5},{"t":8327,"f":0.443,"v":-11.5},{"t":8327,"f":0.53,"v":-12.1},{"t":8327,"f":0.632,"v":-12.9},{"t":8327,"f":0.756,"v":-13.7},{"t":8327,"f":0.904,"v":-14.3},{"t":8327,"f":1.08,"v":-14.7},{"t":8327,"f":1.29,"v":-15.1},{"t":8327,"f":1.54,"v":-15.6},{"t":8327,"f":1.84,"v":-16},{"t":8327,"f":2.2,"v":-16.2},{"t":8327,"f":2.63,"v":-16.4},{"t":8327,"f":3.15,"v":-16.5},{"t":8327,"f":3.76,"v":-16.6},{"t":8327,"f":4.5,"v":-16.7},
{"t":8532,"f":0.217,"v":-11.1},{"t":8532,"f":0.26,"v":-11.2},{"t":8532,"f":0.31,"v":-11.4},{"t":8532,"f":0.371,"v":-11.4},{"t":8532,"f":0.443,"v":-11.4},{"t":8532,"f":0.53,"v":-11.9},{"t":8532,"f":0.632,"v":-12.8},{"t":8532,"f":0.756,"v":-13.6},{"t":8532,"f":0.904,"v":-14.2},{"t":8532,"f":1.08,"v":-14.6},{"t":8532,"f":1.29,"v":-15.1},{"t":8532,"f":1.54,"v":-15.6},{"t":8532,"f":1.84,"v":-16},{"t":8532,"f":2.2,"v":-16.3},{"t":8532,"f":2.63,"v":-16.5},{"t":8532,"f":3.15,"v":-16.6},{"t":8532,"f":3.76,"v":-16.7},{"t":8532,"f":4.5,"v":-16.8},
{"t":8738,"f":0.217,"v":-11.2},{"t":8738,"f":0.26,"v":-11.3},{"t":8738,"f":0.31,"v":-11.4},{"t":8738,"f":0.371,"v":-11.3},{"t":8738,"f":0.443,"v":-11.3},{"t":8738,"f":0.53,"v":-11.8},{"t":8738,"f":0.632,"v":-12.7},{"t":8738,"f":0.756,"v":-13.6},{"t":8738,"f":0.904,"v":-14.2},{"t":8738,"f":1.08,"v":-14.5},{"t":8738,"f":1.29,"v":-15},{"t":8738,"f":1.54,"v":-15.5},{"t":8738,"f":1.84,"v":-15.9},{"t":8738,"f":2.2,"v":-16.2},{"t":8738,"f":2.63,"v":-16.4},{"t":8738,"f":3.15,"v":-16.5},{"t":8738,"f":3.76,"v":-16.6},{"t":8738,"f":4.5,"v":-16.8},
{"t":8944,"f":0.217,"v":-11.5},{"t":8944,"f":0.26,"v":-11.6},{"t":8944,"f":0.31,"v":-11.6},{"t":8944,"f":0.371,"v":-11.4},{"t":8944,"f":0.443,"v":-11.3},{"t":8944,"f":0.53,"v":-11.8},{"t":8944,"f":0.632,"v":-12.8},{"t":8944,"f":0.756,"v":-13.6},{"t":8944,"f":0.904,"v":-14.2},{"t":8944,"f":1.08,"v":-14.5},{"t":8944,"f":1.29,"v":-14.9},{"t":8944,"f":1.54,"v":-15.2},{"t":8944,"f":1.84,"v":-15.6},{"t":8944,"f":2.2,"v":-15.9},{"t":8944,"f":2.63,"v":-16.1},{"t":8944,"f":3.15,"v":-16.3},{"t":8944,"f":3.76,"v":-16.4},{"t":8944,"f":4.5,"v":-16.6},
{"t":9149,"f":0.217,"v":-11.8},{"t":9149,"f":0.26,"v":-11.9},{"t":9149,"f":0.31,"v":-11.8},{"t":9149,"f":0.371,"v":-11.5},{"t":9149,"f":0.443,"v":-11.4},{"t":9149,"f":0.53,"v":-11.9},{"t":9149,"f":0.632,"v":-12.8},{"t":9149,"f":0.756,"v":-13.7},{"t":9149,"f":0.904,"v":-14.2},{"t":9149,"f":1.08,"v":-14.5},{"t":9149,"f":1.29,"v":-14.9},{"t":9149,"f":1.54,"v":-15.2},{"t":9149,"f":1.84,"v":-15.5},{"t":9149,"f":2.2,"v":-15.7},{"t":9149,"f":2.63,"v":-15.9},{"t":9149,"f":3.15,"v":-16.1},{"t":9149,"f":3.76,"v":-16.3},{"t":9149,"f":4.5,"v":-16.6},
{"t":9355,"f":0.217,"v":-12.1},{"t":9355,"f":0.26,"v":-12.2},{"t":9355,"f":0.31,"v":-12},{"t":9355,"f":0.371,"v":-11.6},{"t":9355,"f":0.443,"v":-11.5},{"t":9355,"f":0.53,"v":-12},{"t":9355,"f":0.632,"v":-12.9},{"t":9355,"f":0.756,"v":-13.7},{"t":9355,"f":0.904,"v":-14.2},{"t":9355,"f":1.08,"v":-14.5},{"t":9355,"f":1.29,"v":-14.8},{"t":9355,"f":1.54,"v":-15.1},{"t":9355,"f":1.84,"v":-15.4},{"t":9355,"f":2.2,"v":-15.6},{"t":9355,"f":2.63,"v":-15.7},{"t":9355,"f":3.15,"v":-15.9},{"t":9355,"f":3.76,"v":-16.2},{"t":9355,"f":4.5,"v":-16.5},
{"t":9560,"f":0.217,"v":-12.3},{"t":9560,"f":0.26,"v":-12.4},{"t":9560,"f":0.31,"v":-12.2},{"t":9560,"f":0.371,"v":-11.8},{"t":9560,"f":0.443,"v":-11.7},{"t":9560,"f":0.53,"v":-12.1},{"t":9560,"f":0.632,"v":-13},{"t":9560,"f":0.756,"v":-13.8},{"t":9560,"f":0.904,"v":-14.2},{"t":9560,"f":1.08,"v":-14.5},{"t":9560,"f":1.29,"v":-14.8},{"t":9560,"f":1.54,"v":-15.1},{"t":9560,"f":1.84,"v":-15.3},{"t":9560,"f":2.2,"v":-15.4},{"t":9560,"f":2.63,"v":-15.6},{"t":9560,"f":3.15,"v":-15.8},{"t":9560,"f":3.76,"v":-16.2},{"t":9560,"f":4.5,"v":-16.5},
{"t":9766,"f":0.217,"v":-12.4},{"t":9766,"f":0.26,"v":-12.5},{"t":9766,"f":0.31,"v":-12.3},{"t":9766,"f":0.371,"v":-12},{"t":9766,"f":0.443,"v":-11.9},{"t":9766,"f":0.53,"v":-12.3},{"t":9766,"f":0.632,"v":-13.1},{"t":9766,"f":0.756,"v":-13.9},{"t":9766,"f":0.904,"v":-14.3},{"t":9766,"f":1.08,"v":-14.5},{"t":9766,"f":1.29,"v":-14.8},{"t":9766,"f":1.54,"v":-15.1},{"t":9766,"f":1.84,"v":-15.3},{"t":9766,"f":2.2,"v":-15.5},{"t":9766,"f":2.63,"v":-15.7},{"t":9766,"f":3.15,"v":-15.9},{"t":9766,"f":3.76,"v":-16.3},{"t":9766,"f":4.5,"v":-16.6}],
"streaks":[{"t":119,"a":0.85,"b":6.2,"v":-15},{"t":658,"a":0.57,"b":1.87,"v":-13.2},{"t":517,"a":3.9,"b":6.2,"v":-15.5},{"t":1198,"a":2.9,"b":3.7,"v":-14.8},{"t":1803,"a":2.4,"b":3,"v":-14.5},{"t":1604,"a":1.03,"b":3.4,"v":-14.6},{"t":2042,"a":1.9,"b":6.2,"v":-15},{"t":2042,"a":0.72,"b":1.9,"v":-13.2},{"t":2105,"a":1.9,"b":5.9,"v":-14.9},{"t":2524,"a":2.8,"b":12.3,"v":-15.3},{"t":2524,"a":1.47,"b":2.8,"v":-12.3},{"t":2524,"a":0.68,"b":1.47,"v":-11.6},{"t":3139,"a":2.8,"b":3.6,"v":-14.8},{"t":395,"a":2.5,"b":3.2,"v":-14.8},{"t":888,"a":1.9,"b":3.6,"v":-14.9},{"t":3526,"a":2.3,"b":3.9,"v":-14.7},{"t":4700,"a":1.26,"b":1.42,"v":-11.5},{"t":4730,"a":1.07,"b":1.26,"v":-12},{"t":4760,"a":0.91,"b":1.07,"v":-13.5},{"t":4838,"a":1.16,"b":1.47,"v":-11.7},{"t":4815,"a":0.88,"b":1.16,"v":-12.8},{"t":5792,"a":1.47,"b":2.47,"v":-14},{"t":5792,"a":0.57,"b":1.47,"v":-11.2},{"t":5804,"a":0.57,"b":1.1,"v":-11.4},{"t":5780,"a":0.2,"b":0.57,"v":-10.5},{"t":5792,"a":0.2,"b":0.57,"v":-10.5},{"t":5804,"a":0.2,"b":0.57,"v":-10.5},{"t":5911,"a":0.57,"b":0.88,"v":-13},{"t":5905,"a":0.2,"b":0.57,"v":-10.7},{"t":5920,"a":0.2,"b":0.57,"v":-10.7},{"t":5572,"a":0.23,"b":0.78,"v":-11.3},{"t":5572,"a":0.78,"b":2.9,"v":-15},{"t":5360,"a":0.82,"b":2.7,"v":-14.4},{"t":4533,"a":2.2,"b":3,"v":-14.8},{"t":4162,"a":2.3,"b":3.6,"v":-15.3},{"t":7152,"a":0.81,"b":2.9,"v":-14.5},{"t":7650,"a":1.2,"b":1.87,"v":-14.2},{"t":7650,"a":0.62,"b":1.2,"v":-13},{"t":8649,"a":0.78,"b":1.26,"v":-12.9},{"t":8660,"a":0.78,"b":1.26,"v":-12.9},{"t":8649,"a":1.26,"b":1.72,"v":-14.3},{"t":8649,"a":0.38,"b":0.78,"v":-11.1},{"t":7460,"a":1.9,"b":3.2,"v":-14.6},{"t":7342,"a":1.9,"b":3.9,"v":-14.9},{"t":7885,"a":3.2,"b":4.1,"v":-14.6},{"t":8885,"a":2.2,"b":3.5,"v":-14.9},{"t":9316,"a":2.3,"b":4.1,"v":-15},{"t":6658,"a":2.2,"b":3.3,"v":-15},{"t":6507,"a":2.8,"b":4.5,"v":-15.1},{"t":40,"a":0.2,"b":0.55,"v":-13.2},{"t":260,"a":0.2,"b":0.5,"v":-13.3},{"t":620,"a":0.2,"b":0.5,"v":-13.3},{"t":1010,"a":0.2,"b":0.45,"v":-13.3},{"t":1290,"a":0.2,"b":0.45,"v":-13.2},{"t":1850,"a":0.2,"b":0.35,"v":-12.9},{"t":2250,"a":0.3,"b":0.5,"v":-12.3},{"t":3350,"a":0.2,"b":0.5,"v":-12.2},{"t":3900,"a":0.2,"b":0.55,"v":-12.9},{"t":4250,"a":0.2,"b":0.5,"v":-13},{"t":4980,"a":0.2,"b":0.5,"v":-13.1},{"t":5300,"a":0.2,"b":0.55,"v":-12.9},{"t":6330,"a":0.2,"b":0.5,"v":-13},{"t":6780,"a":0.2,"b":0.5,"v":-13.1},{"t":7200,"a":0.2,"b":0.5,"v":-13.1},{"t":7800,"a":0.2,"b":0.45,"v":-13},{"t":8050,"a":0.2,"b":0.5,"v":-12.7},{"t":9050,"a":0.2,"b":0.4,"v":-12.6},{"t":9500,"a":0.2,"b":0.5,"v":-13}],
"blobs":[{"t0":4843,"t1":4997,"a":1.29,"b":1.49,"v":-12.8},{"t0":5055,"t1":5113,"a":1.29,"b":1.49,"v":-12.8},{"t0":4843,"t1":4997,"a":1.34,"b":1.45,"v":-11.4},{"t0":5055,"t1":5113,"a":1.34,"b":1.45,"v":-11.4}]
},
"vconcat":[
{"width":1241,"height":22,"view":{"stroke":"#262626"},"data":{"name":"bar"},"mark":{"type":"rect","width":20,"clip":true},"encoding":{
"x":{"field":"v","type":"quantitative","scale":{"domain":[-22.35,-9.16],"nice":false,"zero":false},"axis":{"orient":"top","zindex":1,"values":[-22,-20,-18,-16,-14,-12,-10],"labelExpr":"''+datum.value","tickSize":-12,"tickColor":"#262626","domain":false,"grid":false,"labelFontSize":16,"labelColor":"#262626","labelPadding":18,"title":"10^^ PSD [m²/Hz]","titleFontSize":18,"titleFontWeight":"bold","titleColor":"#000000","titleAnchor":"start","titleAlign":"center","titleBaseline":"middle","titleX":1276.7,"titleY":-62}},
"color":{"field":"v","type":"quantitative","legend":null,"scale":{"domain":[-22.247,-20.804,-19.155,-17.506,-15.75,-14.209,-12.56,-10.91,-9.263],"range":["#00008f","#0000ff","#007fff","#00ffff","#80ff80","#ffff00","#ff8000","#ff0000","#800000"],"clamp":true}}}},
{"width":1241,"height":541,"title":{"text":"Spectrogramm - Geophone Backside ground x","fontSize":18,"fontWeight":"bold","color":"#000000","offset":5,"anchor":"middle"},
"encoding":{"color":{"field":"v","type":"quantitative","legend":null,"scale":{"domain":[-22.247,-20.804,-19.155,-17.506,-15.75,-14.209,-12.56,-10.91,-9.263],"range":["#00008f","#0000ff","#007fff","#00ffff","#80ff80","#ffff00","#ff8000","#ff0000","#800000"],"clamp":true}}},
"layer":[
{"data":{"name":"stripes"},"mark":{"type":"rect","height":3.6,"clip":true},"encoding":{"y":{"field":"f","type":"quantitative","scale":{"type":"log","domain":[0.2,125],"nice":false},
"axis":{"tickCount":100,"values":[0.3,0.4,0.5,0.6,0.7,0.8,0.9,1,2,3,4,5,6,7,8,9,10,20,30,40,50,60,70,80,90,100],"tickSize":{"condition":{"test":"datum.value==1||datum.value==10||datum.value==100","value":30},"value":15},"tickColor":"#555555","domainColor":"#777777","grid":false,"labelExpr":"datum.value==100?'10²':datum.value==10?'10¹':datum.value==1?'10⁰':''","labelOverlap":false,"labelFontSize":18,"labelColor":"#262626","labelPadding":6,"title":"Frequency [Hz]","titleFontSize":18,"titleFontWeight":"bold","titleColor":"#262626","titleAnchor":"start","titleAlign":"center","titleBaseline":"middle","titleX":-88.9,"titleY":377.7}}}},
{"data":{"name":"lines"},"mark":{"type":"rect","height":1.3,"clip":true},"encoding":{"y":{"field":"f","type":"quantitative","scale":{"type":"log","domain":[0.2,125],"nice":false}}}},
{"data":{"name":"grid"},"mark":{"type":"rect","width":26.6,"height":15.8,"clip":true},"encoding":{
"x":{"field":"t","type":"quantitative","scale":{"domain":[0,9868],"nice":false,"zero":false},
"axis":{"tickCount":100,"values":[0,123.35,246.7,370.05,493.4,616.75,740.1,863.45,986.8,1110.15,1233.5,1356.85,1480.2,1603.55,1726.9,1850.25,1973.6,2096.95,2220.3,2343.65,2467,2590.35,2713.7,2837.05,2960.4,3083.75,3207.1,3330.45,3453.8,3577.15,3700.5,3823.85,3947.2,4070.55,4193.9,4317.25,4440.6,4563.95,4687.3,4810.65,4934,5057.35,5180.7,5304.05,5427.4,5550.75,5674.1,5797.45,5920.8,6044.15,6167.5,6290.85,6414.2,6537.55,6660.9,6784.25,6907.6,7030.95,7154.3,7277.65,7401,7524.35,7647.7,7771.05,7894.4,8017.75,8141.1,8264.45,8387.8,8511.15,8634.5,8757.85,8881.2,9004.55,9127.9,9251.25,9374.6,9497.95,9621.3,9744.65,9868],
"tickSize":{"condition":{"test":"indexof([0,1233.5,2467,3700.5,4934,6167.5,7401,8634.5,9868],datum.value)>=0","value":29},"value":14.5},"tickColor":"#555555","domainColor":"#333333","grid":false,"labelOverlap":false,"labelFlush":false,"labelBound":false,"labelFontSize":18,"labelColor":"#262626","labelPadding":8,
"labelExpr":"['01-03-21 03:22','01-03-21 23:56','02-03-21 20:29','03-03-21 17:03','04-03-21 13:36','05-03-21 10:09','06-03-21 06:43','07-03-21 03:16','07-03-21 23:50'][indexof([0,1233.5,2467,3700.5,4934,6167.5,7401,8634.5,9868],datum.value)]||''",
"title":"Time [hh:mm]","titleFontSize":18,"titleFontWeight":"bold","titleColor":"#262626","titleAnchor":"start","titleAlign":"center","titleBaseline":"middle","titleX":373.3,"titleY":171.7}},
"y":{"field":"f","type":"quantitative","scale":{"type":"log","domain":[0.2,125],"nice":false}}}},
{"data":{"name":"grid"},"mark":{"type":"rect","width":52,"height":15.8,"opacity":0.5,"clip":true},"encoding":{"x":{"field":"t","type":"quantitative","scale":{"domain":[0,9868],"nice":false,"zero":false}},"y":{"field":"f","type":"quantitative","scale":{"type":"log","domain":[0.2,125],"nice":false}}}},
{"data":{"name":"grid"},"mark":{"type":"rect","width":26,"height":26,"opacity":0.45,"clip":true},"encoding":{"x":{"field":"t","type":"quantitative","scale":{"domain":[0,9868],"nice":false,"zero":false}},"y":{"field":"f","type":"quantitative","scale":{"type":"log","domain":[0.2,125],"nice":false}}}},
{"data":{"name":"streaks"},"mark":{"type":"rect","width":1.6,"opacity":0.7,"clip":true},"encoding":{"x":{"field":"t","type":"quantitative","scale":{"domain":[0,9868],"nice":false,"zero":false}},"y":{"field":"a","type":"quantitative","scale":{"type":"log","domain":[0.2,125],"nice":false}},"y2":{"field":"b"}}},
{"data":{"name":"blobs"},"mark":{"type":"rect","clip":true},"encoding":{"x":{"field":"t0","type":"quantitative","scale":{"domain":[0,9868],"nice":false,"zero":false}},"x2":{"field":"t1"},"y":{"field":"a","type":"quantitative","scale":{"type":"log","domain":[0.2,125],"nice":false}},"y2":{"field":"b"}}}
]}
]}
